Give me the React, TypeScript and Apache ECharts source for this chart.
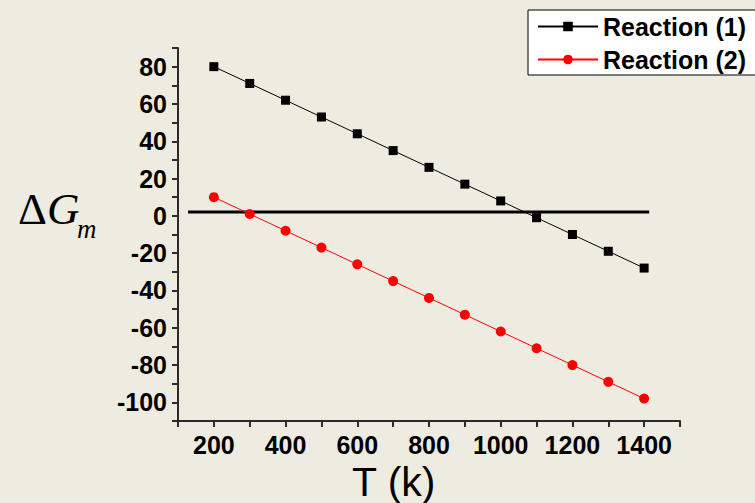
import React, { useEffect, useRef } from "react";
import * as echarts from "echarts";

const temps = [200, 300, 400, 500, 600, 700, 800, 900, 1000, 1100, 1200, 1300, 1400];
const reaction1 = [80, 71, 62, 53, 44, 35, 26, 17, 8, -1, -10, -19, -28];
const reaction2 = [10, 1, -8, -17, -26, -35, -44, -53, -62, -71, -80, -89, -98];
const refLineX = [128, 1414];
const refLineY = 2;
const xTitle = "T (k)";

export default function App() {
  const ref = useRef<HTMLDivElement>(null);
  useEffect(() => {
    document.body.style.margin = "0";
    const chart = echarts.init(ref.current!, null, { renderer: "svg" });
    const font = "'Liberation Sans', Arial, sans-serif";
    const serif = "'Liberation Serif', 'Times New Roman', serif";
    const axisColor = "#2b2b2b";
    chart.setOption({
      animation: false,
      backgroundColor: "#EEEBE1",
      grid: { left: 178, right: 75, top: 48, bottom: 82, outerBoundsMode: "none", containLabel: false },
      legend: {
        data: ["Reaction (1)", "Reaction (2)"],
        orient: "vertical",
        left: 528,
        top: 10,
        padding: [4, 30, 3, 9],
        itemWidth: 60,
        itemHeight: 12,
        itemGap: 8,
        backgroundColor: "#ffffff",
        borderColor: "#000000",
        borderWidth: 1,
        textStyle: { fontFamily: font, fontWeight: "bold", fontSize: 25, color: "#000" },
      },
      xAxis: {
        type: "value",
        min: 100,
        max: 1500,
        interval: 100,
        splitLine: { show: false },
        axisLine: { show: true, onZero: false, lineStyle: { color: axisColor, width: 2 } },
        axisTick: { show: true, length: 6, lineStyle: { color: axisColor, width: 2 } },
        axisLabel: {
          fontFamily: font,
          fontWeight: "bold",
          fontSize: 25,
          color: "#000",
          margin: 11,
          formatter: (v: number) => (v % 200 === 0 && v >= 200 && v <= 1400 ? String(v) : ""),
        },
      },
      yAxis: {
        type: "value",
        min: -110,
        max: 90,
        interval: 10,
        splitLine: { show: false },
        axisLine: { show: true, onZero: false, lineStyle: { color: axisColor, width: 2 } },
        axisTick: { show: true, length: 6, lineStyle: { color: axisColor, width: 2 } },
        axisLabel: {
          fontFamily: font,
          fontWeight: "bold",
          fontSize: 25,
          color: "#000",
          margin: 11,
          formatter: (v: number) => (v % 20 === 0 && v >= -100 && v <= 80 ? String(v) : ""),
        },
      },
      graphic: [
        {
          type: "text",
          left: 352,
          top: 461,
          style: { text: xTitle, fontFamily: font, fontSize: 41, fill: "#000" },
        },
        {
          type: "text",
          left: 18,
          top: 186,
          style: {
            text: "{d|Δ}{g|G}",
            rich: {
              d: { fontFamily: serif, fontSize: 45, fill: "#000" },
              g: { fontFamily: serif, fontSize: 45, fontStyle: "italic", fill: "#000" },
            },
          },
        },
        {
          type: "text",
          left: 77,
          top: 215,
          style: {
            text: "m",
            fontFamily: serif,
            fontSize: 27,
            fontStyle: "italic",
            fill: "#000",
          },
        },
      ],
      series: [
        {
          name: "ref",
          type: "line",
          data: refLineX.map((x) => [x, refLineY]),
          showSymbol: false,
          symbol: "none",
          lineStyle: { color: "#000", width: 3 },
          silent: true,
        },
        {
          name: "Reaction (1)",
          type: "line",
          data: temps.map((t, i) => [t, reaction1[i]]),
          symbol: "rect",
          symbolSize: 9,
          itemStyle: { color: "#000" },
          lineStyle: { color: "#000", width: 1 },
        },
        {
          name: "Reaction (2)",
          type: "line",
          data: temps.map((t, i) => [t, reaction2[i]]),
          symbol: "circle",
          symbolSize: 10,
          itemStyle: { color: "#ff0000" },
          lineStyle: { color: "#ff0000", width: 1 },
        },
      ],
    });
    return () => chart.dispose();
  }, []);
  return <div ref={ref} style={{ width: 755, height: 503, position: "absolute", left: 0, top: 0 }} />;
}
